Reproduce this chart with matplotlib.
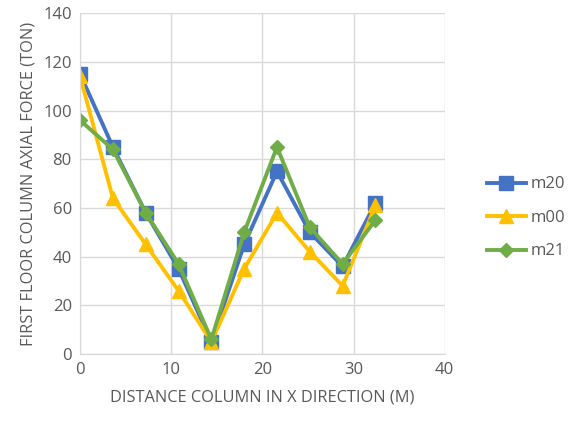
import matplotlib
matplotlib.use("Agg")
import matplotlib.pyplot as plt

# distance of each column along x (m)
distance = [0, 3.6, 7.2, 10.8, 14.4, 18, 21.6, 25.2, 28.8, 32.4]
m20 = [115, 85, 58, 35, 5, 45, 75, 50, 36, 62]
m00 = [114, 64, 45, 26, 5, 35, 58, 42, 28, 61]
m21 = [96, 84, 58, 37, 6, 50, 85, 52, 37, 55]

plt.rcParams['font.family'] = ['Open Sans', 'DejaVu Sans']
text_color = "#595959"

fig = plt.figure(figsize=(5.68, 4.23), dpi=100)
ax = fig.add_axes([0.141, 0.163, 0.642, 0.806])

ax.plot(distance, m20, color="#4472C4", marker="s", markersize=10, linewidth=2.8, label="m20")
ax.plot(distance, m00, color="#FFC000", marker="^", markersize=10, linewidth=2.8, label="m00")
ax.plot(distance, m21, color="#70AD47", marker="D", markersize=7.5, linewidth=2.8, label="m21")

ax.set_xlim(0, 40)
ax.set_ylim(0, 140)
ax.set_xticks(range(0, 41, 10))
ax.set_yticks(range(0, 141, 20))
ax.grid(True, color="#D9D9D9", linewidth=1)
ax.set_axisbelow(True)
for side in ["top", "right"]:
    ax.spines[side].set_visible(False)
ax.spines["left"].set_color("#D9D9D9")
ax.spines["bottom"].set_color("#D9D9D9")
ax.tick_params(length=0, colors=text_color, labelsize=12, pad=6)

ax.set_xlabel("DISTANCE COLUMN IN X DIRECTION (M)", color=text_color, fontsize=11.8, labelpad=8)
ax.set_ylabel("FIRST FLOOR COLUMN AXIAL FORCE (TON)", color=text_color, fontsize=11.8, labelpad=5)

fig.legend(loc="center left", bbox_to_anchor=(0.846, 0.485), frameon=False,
           fontsize=12, labelcolor=text_color, handlelength=2.3,
           handletextpad=0.3, labelspacing=1.05, borderaxespad=0)

fig.savefig("out.png", dpi=100)
